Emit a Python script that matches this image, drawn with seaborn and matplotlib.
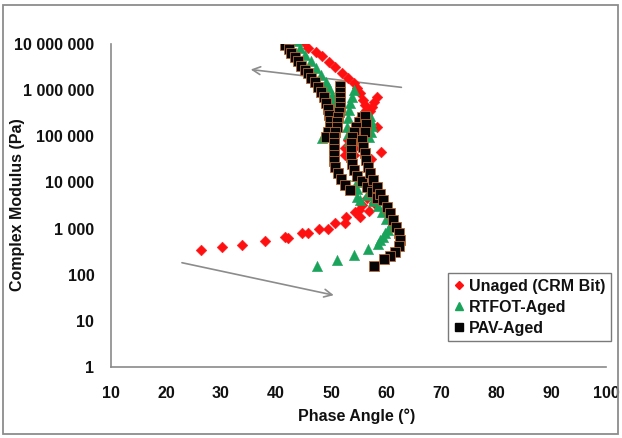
import matplotlib
matplotlib.use("Agg")
import matplotlib.pyplot as plt
import matplotlib.patches as mpatches
from matplotlib.lines import Line2D
from matplotlib.ticker import FixedLocator, FixedFormatter, NullLocator
import seaborn as sns
import pandas as pd

# ---------------- data ----------------
series_names = ["Unaged (CRM Bit)", "RTFOT-Aged", "PAV-Aged"]

unaged_phase = [45.0, 45.9, 47.2, 48.4, 49.6, 50.8, 52.0, 53.1, 54.1, 54.7, 55.3, 55.8, 56.1, 56.3, 56.6,
                55.3, 54.6, 53.7, 53.0, 52.5, 52.6,
                58.3, 57.9, 57.5, 57.1, 56.4, 55.7, 55.0, 54.5, 54.1, 54.1,
                58.3, 59.0, 57.2,
                26.4, 30.1, 33.9, 38.0, 41.7, 42.2, 44.7, 45.9, 47.9, 49.4, 50.7, 52.6, 52.8,
                54.3, 55.2, 55.0, 55.6, 56.9, 57.9, 56.5]
unaged_modulus = [1.10e7, 8.1e6, 6.6e6, 5.4e6, 4.0e6, 3.1e6, 2.3e6, 1.8e6, 1.4e6, 1.1e6, 8.5e5, 6.2e5, 4.8e5, 3.7e5, 2.9e5,
                  2.45e5, 1.74e5, 1.23e5, 8.3e4, 5.6e4, 3.9e4,
                  7.2e5, 5.6e5, 4.4e5, 3.5e5, 2.5e5, 1.66e5, 1.17e5, 8.3e4, 5.6e4, 3.9e4,
                  1.62e5, 4.6e4, 3.3e4,
                  340, 389, 437, 550, 646, 631, 813, 813, 1000, 1000, 1350, 1350, 1820,
                  2290, 1820, 2510, 3240, 2400, 3550, 4570]

rtfot_phase = [43.8, 44.4, 45.3, 46.3, 47.2, 48.1, 49.0, 49.6, 50.1, 50.4, 50.5, 50.3, 50.0, 49.5, 48.9, 48.3,
               54.1, 53.8, 53.5, 53.2, 53.1, 52.9, 53.0, 53.3, 53.6, 53.8, 54.0, 54.3, 54.5, 54.7, 54.8, 54.7, 55.3,
               57.0, 57.3, 57.5, 57.3, 56.9,
               47.4, 51.0, 54.1, 56.7, 58.6, 58.9, 59.5, 59.8, 60.4, 60.7, 60.0, 59.3, 58.5, 57.6, 56.6]
rtfot_modulus = [1.17e7, 8.1e6, 5.75e6, 4.2e6, 2.95e6, 2.14e6, 1.51e6, 1.10e6, 7.9e5, 5.6e5, 4.1e5, 3.2e5, 2.24e5, 1.58e5, 1.17e5, 9.3e4,
                 1.0e6, 7.2e5, 5.2e5, 3.7e5, 2.45e5, 1.62e5, 1.12e5, 7.9e4, 5.6e4, 4.0e4, 2.8e4, 2.0e4, 1.41e4, 1.0e4, 7.1e3, 4.9e3, 4.2e3,
                 2.8e5, 2.14e5, 1.66e5, 1.26e5, 9.5e4,
                 158, 209, 269, 355, 468, 562, 646, 794, 933, 1150, 1580, 2240, 3020, 3980, 5250]

pav_phase = [41.7, 42.3, 42.8, 43.4, 44.0, 44.6, 45.2, 45.8, 46.4, 47.0, 47.6, 48.2, 48.7, 49.1, 49.4, 49.7, 49.9, 49.9, 49.5, 49.0,
             51.7, 51.7, 51.7, 51.7, 51.6, 51.4, 51.2, 51.1, 51.0, 50.8, 50.6, 50.5, 50.5, 50.5, 50.6, 50.8, 51.2, 51.8, 52.6, 53.5,
             55.6, 55.0, 54.5, 54.1, 53.8, 53.6, 53.6, 53.6, 53.8, 54.2, 54.8, 55.6, 56.5, 57.4, 58.4,
             56.1, 56.3, 56.1, 55.7, 55.9, 56.1, 56.3, 56.7, 57.1, 57.7, 58.3, 58.9, 59.5, 60.1, 60.7, 61.3, 61.9,
             62.4, 62.6, 62.4, 61.6, 60.7, 59.7, 57.9]
pav_modulus = [9.5e6, 7.8e6, 6.3e6, 5.1e6, 4.2e6, 3.4e6, 2.75e6, 2.3e6, 1.86e6, 1.48e6, 1.17e6, 9.3e5, 7.1e5, 5.2e5, 3.9e5, 2.9e5, 2.14e5, 1.58e5, 1.26e5, 9.8e4,
               1.2e6, 9.3e5, 7.2e5, 5.6e5, 4.4e5, 3.4e5, 2.63e5, 2.09e5, 1.62e5, 1.26e5, 9.5e4, 7.1e4, 5.2e4, 3.9e4, 2.9e4, 2.2e4, 1.58e4, 1.17e4, 8.7e3, 6.9e3,
               2.63e5, 2.09e5, 1.62e5, 1.26e5, 9.8e4, 7.1e4, 5.0e4, 3.6e4, 2.57e4, 1.86e4, 1.38e4, 1.05e4, 8.1e3, 6.3e3, 4.6e3,
               2.75e5, 1.86e5, 1.23e5, 8.3e4, 5.9e4, 4.3e4, 3.1e4, 2.2e4, 1.58e4, 1.12e4, 8.1e3, 5.75e3, 4.2e3, 2.95e3, 2.14e3, 1.55e3, 1.10e3,
               794, 562, 417, 316, 257, 214, 158]

x_ticks = [10, 20, 30, 40, 50, 60, 70, 80, 90, 100]
x_tick_labels = ["10", "20", "30", "40", "50", "60", "70", "80", "90", "100"]
y_ticks = [1, 10, 100, 1000, 10000, 100000, 1000000, 10000000]
y_tick_labels = ["1", "10", "100", "1 000", "10 000", "100 000", "1 000 000", "10 000 000"]

# arrows (phase angle, modulus): tail -> head
arrow_upper = [(62.8, 1.15e6), (35.4, 2.8e6)]
arrow_lower = [(22.9, 182), (50.5, 36)]

# ---------------- styling ----------------
sns.set_theme(style="white")
plt.rcParams["font.family"] = ["Liberation Sans", "DejaVu Sans"]
plt.rcParams["font.weight"] = "bold"

fig = plt.figure(figsize=(6.22, 4.38), dpi=100)
ax = fig.add_axes([111 / 622, 1 - 367 / 438, 495 / 622, 323 / 438])

df_u = pd.DataFrame({"phase": unaged_phase, "modulus": unaged_modulus})
df_r = pd.DataFrame({"phase": rtfot_phase, "modulus": rtfot_modulus})
df_p = pd.DataFrame({"phase": pav_phase, "modulus": pav_modulus})

red = "#ff1010"
green = "#1aa35a"
black = "#050505"

sns.scatterplot(data=df_u, x="phase", y="modulus", ax=ax, marker="D", s=30, color=red,
                edgecolor=red, linewidth=0.3, legend=False, zorder=3)
sns.scatterplot(data=df_r, x="phase", y="modulus", ax=ax, marker="^", s=56, color=green,
                edgecolor=green, linewidth=0.3, legend=False, zorder=4)
sns.scatterplot(data=df_p, x="phase", y="modulus", ax=ax, marker="s", s=46, color=black,
                edgecolor="#b86a35", linewidth=0.6, legend=False, zorder=5)

ax.set_xscale("linear")
ax.set_yscale("log")
ax.set_xlim(10, 100)
ax.set_ylim(1, 1e7)
ax.xaxis.set_major_locator(FixedLocator(x_ticks))
ax.xaxis.set_major_formatter(FixedFormatter(x_tick_labels))
ax.yaxis.set_major_locator(FixedLocator(y_ticks))
ax.yaxis.set_major_formatter(FixedFormatter(y_tick_labels))
ax.yaxis.set_minor_locator(NullLocator())
ax.xaxis.set_minor_locator(NullLocator())

axis_gray = "#8a8a8a"
for side in ["top", "right"]:
    ax.spines[side].set_visible(False)
for side in ["left", "bottom"]:
    ax.spines[side].set_color(axis_gray)
    ax.spines[side].set_linewidth(1.2)
ax.tick_params(axis="both", which="major", direction="out", length=5, width=1.0,
               color=axis_gray, labelsize=11.5, labelcolor="#111111")
ax.tick_params(axis="y", pad=7)
ax.tick_params(axis="x", pad=9)
for lbl in ax.get_xticklabels() + ax.get_yticklabels():
    lbl.set_fontweight("bold")
ax.set_xlabel("")
ax.set_ylabel("")
ax.grid(False)
ax.patch.set_alpha(0)

fig.text((357) / 622, 1 - 416 / 438, "Phase Angle (°)", ha="center", va="center",
         fontsize=11.5, fontweight="bold", color="#111111")
fig.text(18 / 622, 1 - 205 / 438, "Complex Modulus (Pa)", ha="center", va="center",
         rotation=90, fontsize=11.5, fontweight="bold", color="#111111")

# arrows
arrow_gray = "#8c8c8c"
for (tail, head) in [arrow_upper, arrow_lower]:
    ax.annotate("", xy=head, xytext=tail, xycoords="data", textcoords="data",
                arrowprops=dict(arrowstyle="->", color=arrow_gray, lw=1.2,
                                mutation_scale=14, shrinkA=0, shrinkB=0), zorder=2)

# legend
handles = [
    Line2D([], [], marker="D", linestyle="none", color=red, markersize=4.5),
    Line2D([], [], marker="^", linestyle="none", color=green, markersize=6),
    Line2D([], [], marker="s", linestyle="none", color=black, markersize=5.5),
]
leg = ax.legend(handles, series_names, loc="upper left",
                bbox_to_anchor=(448 / 622, 1 - 273 / 438), bbox_transform=fig.transFigure,
                frameon=True, fancybox=False, framealpha=1, edgecolor="#7a7a7a",
                prop={"size": 11.5, "weight": "bold"}, handlelength=0.7, handletextpad=0.25,
                labelspacing=0.38, borderpad=0.35, borderaxespad=0)
leg.get_frame().set_linewidth(1.0)
for t in leg.get_texts():
    t.set_color("#111111")

# outer chart border
fig.patches.append(mpatches.Rectangle((3 / 622, 1 - 434 / 438), 615 / 622, 429 / 438,
                                      transform=fig.transFigure, fill=False,
                                      edgecolor="#8c8c8c", linewidth=1.3))

fig.savefig("out.png", dpi=100)
